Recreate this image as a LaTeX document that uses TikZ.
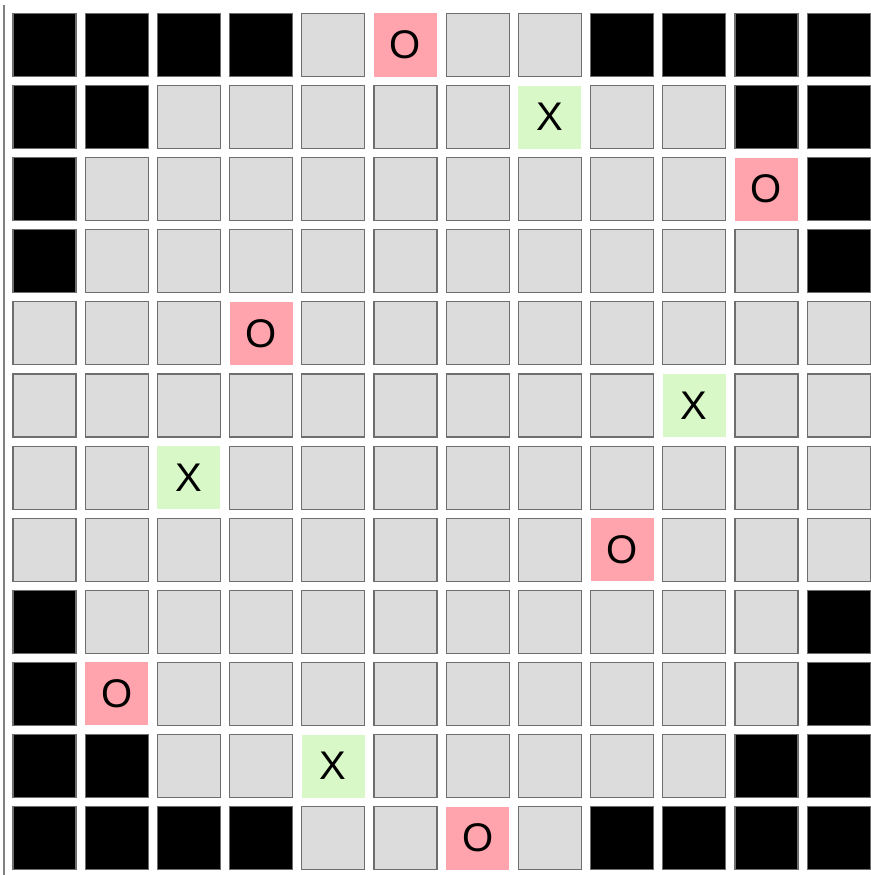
\documentclass[tikz,border=0pt]{standalone}
\usepackage{fontspec}
\setmainfont{Liberation Sans}
\definecolor{cellgray}{HTML}{DCDCDC}
\definecolor{cellpink}{HTML}{FFA3AD}
\definecolor{cellgreen}{HTML}{D8F8C8}
\definecolor{edgegray}{HTML}{6E6E6E}
\def\txtB{}\def\txtG{}\def\txtO{O}\def\txtX{X}
\begin{document}
\begin{tikzpicture}[x=1pt,y=-1pt,
  cell/.style={rectangle,minimum size=63pt,inner sep=0pt,outer sep=0pt,font=\fontsize{40}{40}\selectfont},
  cellB/.style={fill=black,draw=edgegray,line width=1.1pt},
  cellG/.style={fill=cellgray,draw=edgegray,line width=1.1pt},
  cellO/.style={fill=cellpink},
  cellX/.style={fill=cellgreen}]
\fill[white] (0,0) rectangle (870,875);
\useasboundingbox (0,0) rectangle (870,875);
\draw[line width=1.6pt,color=black!50] (4,5) -- (4,875);
\foreach \row [count=\r from 0] in {
  {B,B,B,B,G,O,G,G,B,B,B,B},
  {B,B,G,G,G,G,G,X,G,G,B,B},
  {B,G,G,G,G,G,G,G,G,G,O,B},
  {B,G,G,G,G,G,G,G,G,G,G,B},
  {G,G,G,O,G,G,G,G,G,G,G,G},
  {G,G,G,G,G,G,G,G,G,X,G,G},
  {G,G,X,G,G,G,G,G,G,G,G,G},
  {G,G,G,G,G,G,G,G,O,G,G,G},
  {B,G,G,G,G,G,G,G,G,G,G,B},
  {B,O,G,G,G,G,G,G,G,G,G,B},
  {B,B,G,G,X,G,G,G,G,G,B,B},
  {B,B,B,B,G,G,O,G,B,B,B,B}}{
  \foreach \t [count=\c from 0] in \row {
    \node[cell,cell\t] (n\r-\c) at ({44.5+72.2*\c},{45+72.1*\r}) {\csname txt\t\endcsname};
  }
}
\end{tikzpicture}
\end{document}
